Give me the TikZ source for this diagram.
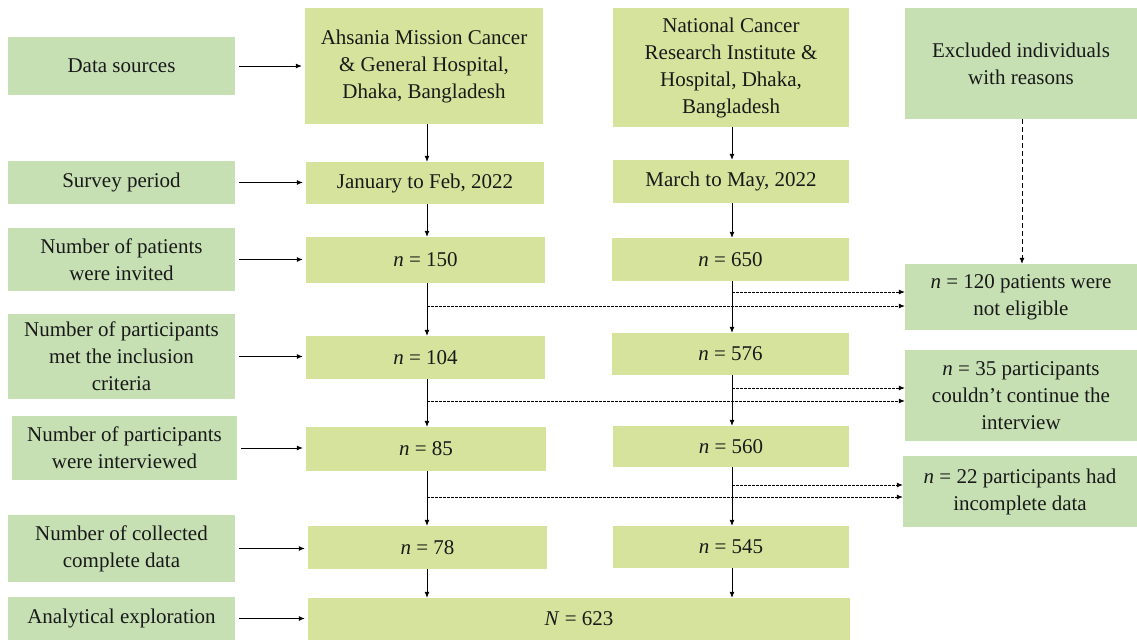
\documentclass[tikz,border=0pt]{standalone}
\usepackage{fontspec}
\setmainfont{Liberation Serif}
\usetikzlibrary{arrows.meta,calc}
\definecolor{lgreen}{RGB}{198,224,180}
\definecolor{ygreen}{RGB}{214,227,156}
\definecolor{txt}{RGB}{25,25,25}
\tikzset{
  base/.style={inner sep=0pt, align=center, text=txt, font=\fontsize{21}{27}\selectfont},
  lbox/.style={base, fill=lgreen},
  mbox/.style={base, fill=ygreen},
  arr/.style={-{Latex[length=6pt,width=5pt]}, line width=0.8pt, black},
  darr/.style={-{Latex[length=6pt,width=5pt]}, line width=0.8pt, black, dash pattern=on 2.5pt off 1.5pt},
}
\begin{document}
\begin{tikzpicture}[x=1pt,y=-1pt]
\useasboundingbox (0,0) rectangle (1137,642);
% left column
\node[lbox, minimum width=227, minimum height=58] (ds) at (121.5,66) {Data sources};
\node[lbox, minimum width=227, minimum height=43] (sp) at (121.5,182.5) {Survey period};
\node[lbox, minimum width=227, minimum height=63] (pi) at (121.5,259.5) {Number of patients\\were invited};
\node[lbox, minimum width=227, minimum height=85] (mi) at (121.5,356.5) {Number of participants\\met the inclusion\\criteria};
\node[lbox, minimum width=225, minimum height=64] (iv) at (124.5,448) {Number of participants\\were interviewed};
\node[lbox, minimum width=227, minimum height=67] (cc) at (121.5,548.5) {Number of collected\\complete data};
\node[lbox, minimum width=227, minimum height=43] (ae) at (121.5,618.5) {Analytical exploration};
% middle column
\node[mbox, minimum width=238, minimum height=116] (a1) at (424,66) {Ahsania Mission Cancer\\\& General Hospital,\\Dhaka, Bangladesh};
\node[mbox, minimum width=238, minimum height=42] (a2) at (425,183) {January to Feb, 2022};
\node[mbox, minimum width=239, minimum height=46] (a3) at (425.5,260) {\textit{n} = 150};
\node[mbox, minimum width=239, minimum height=43] (a4) at (425.5,357.5) {\textit{n} = 104};
\node[mbox, minimum width=240, minimum height=44] (a5) at (426,449) {\textit{n} = 85};
\node[mbox, minimum width=239, minimum height=43] (a6) at (427.5,547.5) {\textit{n} = 78};
\node[mbox, minimum width=542, minimum height=42] (tot) at (579,619) {\textit{N} = 623};
% right column
\node[mbox, minimum width=236, minimum height=119] (b1) at (731,67.5) {National Cancer\\Research Institute \&\\Hospital, Dhaka,\\Bangladesh};
\node[mbox, minimum width=236, minimum height=43] (b2) at (731,181.5) {March to May, 2022};
\node[mbox, minimum width=237, minimum height=43] (b3) at (730.5,259.5) {\textit{n} = 650};
\node[mbox, minimum width=237, minimum height=42] (b4) at (730.5,354) {\textit{n} = 576};
\node[mbox, minimum width=236, minimum height=41] (b5) at (731,446.5) {\textit{n} = 560};
\node[mbox, minimum width=236, minimum height=42] (b6) at (731,547) {\textit{n} = 545};
% excluded column
\node[lbox, minimum width=232, minimum height=111] (e0) at (1021,63.5) {Excluded individuals\\with reasons};
\node[lbox, minimum width=232, minimum height=66] (e1) at (1021,297) {\textit{n} = 120 patients were\\not eligible};
\node[lbox, minimum width=232, minimum height=91] (e2) at (1021,395.5) {\textit{n} = 35 participants\\couldn’t continue the\\interview};
\node[lbox, minimum width=234, minimum height=71] (e3) at (1020,491.5) {\textit{n} = 22 participants had\\incomplete data};
% column guide coordinates
\coordinate (mx) at (427,0);
\coordinate (rx) at (732,0);
\coordinate (ex) at (1022,0);
% left to middle arrows
\foreach \s/\t in {ds/a1,sp/a2,pi/a3,mi/a4,iv/a5,cc/a6,ae/tot}
  \draw[arr, shorten <=4pt, shorten >=3pt] (\s.east) -- (\s.east -| \t.west);
% vertical arrows middle
\foreach \s/\t in {a1/a2,a2/a3,a3/a4,a4/a5,a5/a6,a6/tot}
  \draw[arr] (\s.south -| mx) -- (\t.north -| mx);
% vertical arrows right
\foreach \s/\t in {b1/b2,b2/b3,b3/b4,b4/b5,b5/b6,b6/tot}
  \draw[arr] (\s.south -| rx) -- (\t.north -| rx);
% excluded dashed vertical
\draw[darr, dash pattern=on 5pt off 3pt] (e0.south -| ex) -- (e1.north -| ex);
% dashed branches
\coordinate (d1r) at (732,292);
\coordinate (d1l) at (427,306);
\coordinate (d2r) at (732,388);
\coordinate (d2l) at (427,401);
\coordinate (d3r) at (732,485);
\coordinate (d3l) at (427,497);
\draw[darr] (d1r) -- (d1r -| e1.west);
\draw[darr] (d1l) -- (d1l -| e1.west);
\draw[darr] (d2r) -- (d2r -| e2.west);
\draw[darr] (d2l) -- (d2l -| e2.west);
\draw[darr] (d3r) -- (d3r -| e3.west);
\draw[darr] (d3l) -- (d3l -| e3.west);
\end{tikzpicture}
\end{document}
